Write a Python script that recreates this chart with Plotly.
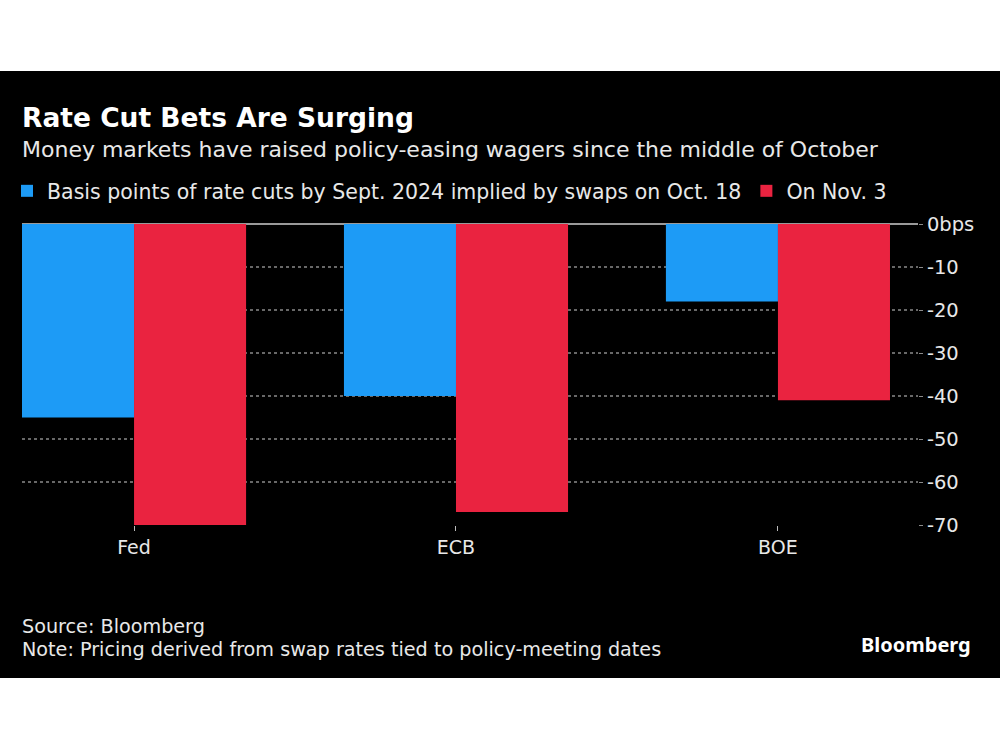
import plotly.graph_objects as go

categories = ["Fed", "ECB", "BOE"]
oct18 = [-45, -40, -18]
nov3 = [-70, -67, -41]
series_names = ["Basis points of rate cuts by Sept. 2024 implied by swaps on Oct. 18", "On Nov. 3"]
y_tickvals = [0, -10, -20, -30, -40, -50, -60, -70]
y_ticktext = ["0bps", "-10", "-20", "-30", "-40", "-50", "-60", "-70"]
grid_values = [-10, -20, -30, -40, -50, -60]

BLUE = "#1d9bf6"
RED = "#ea2340"
TXT = "#e8e8e8"
FONT = "DejaVu Sans"

# plot-area pixel geometry
L, R, T, B = 22, 918, 224, 525
W, H = R - L, B - T

def px(xp):
    return (xp - L) / W

def py(yp):
    return (B - yp) / H

fig = go.Figure()
fig.add_trace(go.Bar(x=categories, y=oct18, name=series_names[0], marker=dict(color=BLUE, line=dict(width=0))))
fig.add_trace(go.Bar(x=categories, y=nov3, name=series_names[1], marker=dict(color=RED, line=dict(width=0))))

shapes = [dict(type="rect", xref="paper", yref="paper", x0=px(0), x1=px(1000), y0=py(678), y1=py(71),
               fillcolor="black", line=dict(width=0), layer="below")]
for v in grid_values:
    shapes.append(dict(type="line", xref="paper", yref="y", x0=0, x1=1, y0=v, y1=v,
                       line=dict(color="#8a8a8a", width=1.5, dash="dot"), layer="below"))

annotations = [
    dict(text="<b>Rate Cut Bets Are Surging</b>", x=px(20), y=py(118), xref="paper", yref="paper",
         xanchor="left", yanchor="middle", showarrow=False, font=dict(family="DejaVu Sans", size=26.5, color="white")),
    dict(text="Money markets have raised policy-easing wagers since the middle of October", x=px(20), y=py(149),
         xref="paper", yref="paper", xanchor="left", yanchor="middle", showarrow=False,
         font=dict(family=FONT, size=22, color=TXT)),
    dict(text="Source: Bloomberg", x=px(20), y=py(626), xref="paper", yref="paper", xanchor="left",
         yanchor="middle", showarrow=False, font=dict(family=FONT, size=19.2, color=TXT)),
    dict(text="Note: Pricing derived from swap rates tied to policy-meeting dates", x=px(20), y=py(649),
         xref="paper", yref="paper", xanchor="left", yanchor="middle", showarrow=False,
         font=dict(family=FONT, size=19.2, color=TXT)),
    dict(text="<b>Bloomberg</b>", x=px(973), y=py(644), xref="paper", yref="paper", xanchor="right",
         yanchor="middle", showarrow=False, font=dict(family="Noto Sans", size=20, color="white")),
]

fig.update_layout(
    width=1000, height=750, autosize=False,
    margin=dict(l=L, r=1000 - R, t=T, b=750 - B, pad=0, autoexpand=False),
    paper_bgcolor="white", plot_bgcolor="rgba(0,0,0,0)",
    barmode="group", bargap=0.304, bargroupgap=0,
    showlegend=True,
    legend=dict(orientation="h", x=px(7), y=py(191), xanchor="left", yanchor="middle",
                font=dict(family=FONT, size=20.5, color=TXT), bgcolor="rgba(0,0,0,0)",
                itemsizing="constant", traceorder="normal"),
    shapes=shapes, annotations=annotations,
    xaxis=dict(range=[-0.348, 2.435], showgrid=False, zeroline=False, showline=False,
               ticks="outside", ticklen=5, tickcolor="#bbbbbb", tickwidth=1,
               tickfont=dict(family=FONT, size=19, color=TXT)),
    yaxis=dict(range=[-70, 0], side="right", tickvals=y_tickvals, ticktext=y_ticktext,
               showgrid=False, zeroline=True, zerolinecolor="#9a9a9a", zerolinewidth=1.5,
               showline=False, ticks="outside", ticklen=4, tickcolor="#8a8a8a",
               tickfont=dict(family=FONT, size=19.5, color=TXT)),
)

fig.write_html("out.html")
